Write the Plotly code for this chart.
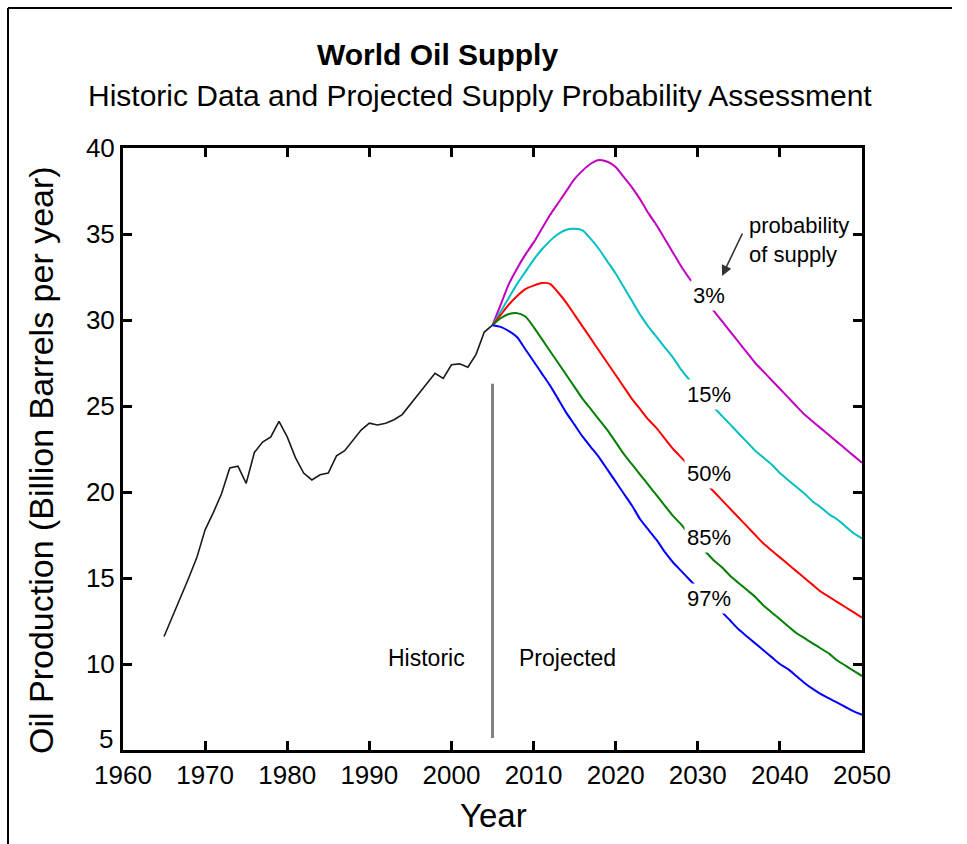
import plotly.graph_objects as go

# ---------------- data ----------------
hist_years = list(range(1965, 2006))
hist_values = [11.6, 12.7, 13.9, 15.0, 16.2, 17.8, 18.8, 19.9, 21.4, 21.5,
               20.5, 22.3, 22.9, 23.2, 24.1, 23.2, 22.0, 21.1, 20.7, 21.0,
               21.1, 22.1, 22.4, 23.0, 23.6, 24.0, 23.9, 24.0, 24.2, 24.5,
               25.1, 25.7, 26.3, 26.9, 26.6, 27.4, 27.45, 27.25, 28.0, 29.3,
               29.7]

proj_years = list(range(2005, 2051))
p03 = [29.7, 30.9, 32.1, 33.0, 33.8, 34.5, 35.3, 36.1, 36.8, 37.5,
       38.2, 38.7, 39.1, 39.3, 39.2, 38.9, 38.3, 37.7, 37.0, 36.2,
       35.5, 34.7, 33.9, 33.1, 32.4, 31.7, 31.1, 30.5, 29.9, 29.3,
       28.7, 28.1, 27.5, 27.0, 26.5, 26.0, 25.5, 25.0, 24.5, 24.1,
       23.7, 23.3, 22.9, 22.5, 22.1, 21.7]
p15 = [29.7, 30.5, 31.3, 32.1, 32.8, 33.5, 34.1, 34.6, 35.0, 35.25,
       35.3, 35.2, 34.7, 34.1, 33.4, 32.7, 31.9, 31.1, 30.3, 29.6,
       29.0, 28.4, 27.8, 27.1, 26.5, 25.9, 25.4, 24.9, 24.4, 23.9,
       23.4, 22.9, 22.4, 22.0, 21.6, 21.1, 20.7, 20.3, 19.9, 19.45,
       19.1, 18.7, 18.4, 18.0, 17.6, 17.3]
p50 = [29.7, 30.3, 30.9, 31.4, 31.8, 32.0, 32.15, 32.1, 31.6, 31.0,
       30.3, 29.6, 28.9, 28.2, 27.5, 26.8, 26.1, 25.4, 24.8, 24.2,
       23.7, 23.1, 22.5, 22.0, 21.5, 21.0, 20.5, 20.0, 19.5, 19.0,
       18.5, 18.0, 17.5, 17.0, 16.6, 16.2, 15.8, 15.4, 15.0, 14.6,
       14.2, 13.9, 13.6, 13.3, 13.0, 12.7]
p85 = [29.7, 30.1, 30.35, 30.4, 30.2, 29.6, 28.9, 28.2, 27.5, 26.8,
       26.1, 25.4, 24.8, 24.2, 23.6, 22.9, 22.2, 21.6, 21.0, 20.4,
       19.8, 19.2, 18.6, 18.1, 17.5, 17.0, 16.5, 16.0, 15.6, 15.1,
       14.7, 14.3, 13.9, 13.4, 13.0, 12.6, 12.2, 11.8, 11.5, 11.2,
       10.9, 10.6, 10.2, 9.9, 9.6, 9.3]
p97 = [29.7, 29.6, 29.35, 29.0, 28.3, 27.6, 26.9, 26.2, 25.4, 24.6,
       23.9, 23.2, 22.6, 22.0, 21.3, 20.6, 19.9, 19.2, 18.4, 17.8,
       17.2, 16.5, 15.9, 15.4, 14.9, 14.4, 13.9, 13.4, 13.0, 12.5,
       12.0, 11.6, 11.2, 10.8, 10.4, 10.0, 9.7, 9.3, 8.9, 8.55,
       8.25, 8.0, 7.75, 7.5, 7.25, 7.05]

series = [("3%", p03, "#c000c0", 31.4),
          ("15%", p15, "#00bfbf", 25.64),
          ("50%", p50, "#ff0000", 21.07),
          ("85%", p85, "#007f00", 17.38),
          ("97%", p97, "#0000ff", 13.78)]

x_ticks = list(range(1960, 2051, 10))
y_ticks = list(range(5, 41, 5))
y_ticktext = ["" if v == 5 else str(v) for v in y_ticks]  # "5" drawn slightly raised below

FONT = "Liberation Sans, Arial, Helvetica, sans-serif"

fig = go.Figure()
fig.add_trace(go.Scatter(x=hist_years, y=hist_values, mode="lines",
                         line=dict(color="#1a1a1a", width=1.6), showlegend=False))
for name, vals, col, _ in series:
    fig.add_trace(go.Scatter(x=proj_years, y=vals, mode="lines",
                             line=dict(color=col, width=2, shape="spline", smoothing=0.6),
                             showlegend=False))

# historic/projected divider
fig.add_shape(type="line", x0=2005, x1=2005, y0=5.7, y1=26.3, xref="x", yref="y",
              line=dict(color="#808080", width=3))

annotations = []
for name, vals, col, ly in series:
    annotations.append(dict(x=2031.4, y=ly, xref="x", yref="y", text=name,
                            showarrow=False, bgcolor="white", borderpad=2,
                            xanchor="center", yanchor="middle",
                            font=dict(family=FONT, size=22, color="black")))
annotations += [
    dict(x=1997.0, y=10.35, xref="x", yref="y", text="Historic", showarrow=False,
         xanchor="center", yanchor="middle",
         font=dict(family=FONT, size=23, color="black")),
    dict(x=2014.1, y=10.35, xref="x", yref="y", text="Projected", showarrow=False,
         xanchor="center", yanchor="middle",
         font=dict(family=FONT, size=23, color="black")),
    dict(x=2036.0, y=34.65, xref="x", yref="y", text="probability<br>of supply",
         showarrow=False, xanchor="left", yanchor="middle", align="left",
         font=dict(family=FONT, size=22, color="black")),
    dict(x=2032.96, y=32.56, xref="x", yref="y", text="", showarrow=True,
         ax=21, ay=-44, arrowhead=2, arrowsize=1.3, arrowwidth=1.6,
         arrowcolor="#333333"),
    dict(x=0.4256, y=1.1545, xref="paper", yref="paper", text="<b>World Oil Supply</b>",
         showarrow=False, xanchor="center", yanchor="middle",
         font=dict(family=FONT, size=30, color="black")),
    dict(x=0.4831, y=1.088, xref="paper", yref="paper",
         text="Historic Data and Projected Supply Probability Assessment",
         showarrow=False, xanchor="center", yanchor="middle",
         font=dict(family=FONT, size=30, color="black")),
    dict(x=-0.111, y=0.4817, xref="paper", yref="paper",
         text="Oil Production (Billion Barrels per year)", textangle=-90,
         showarrow=False, xanchor="center", yanchor="middle",
         font=dict(family=FONT, size=34, color="black")),
    dict(x=0.5007, y=-0.108, xref="paper", yref="paper", text="Year",
         showarrow=False, xanchor="center", yanchor="middle",
         font=dict(family=FONT, size=33, color="black")),
    dict(x=-0.0115, y=0.0, xref="paper", yref="paper", text="5",
         showarrow=False, xanchor="right", yanchor="bottom", yshift=-6,
         font=dict(family=FONT, size=26, color="black")),
]

# outer frame (left and top)
fig.add_shape(type="line", xref="paper", yref="paper", x0=-0.1556, x1=-0.1556,
              y0=1.2326, y1=-0.16, line=dict(color="black", width=2))
fig.add_shape(type="line", xref="paper", yref="paper", x0=-0.1556, x1=1.1218,
              y0=1.2326, y1=1.2326, line=dict(color="black", width=2))

axis_common = dict(showline=True, linewidth=3, linecolor="black", mirror="ticks",
                   ticks="inside", ticklen=9, tickwidth=3, tickcolor="black",
                   showgrid=False, zeroline=False,
                   tickfont=dict(family=FONT, size=26, color="black"))

fig.update_layout(
    width=967, height=844,
    margin=dict(l=123, r=105, t=148, b=94),
    paper_bgcolor="white", plot_bgcolor="white",
    xaxis=dict(range=[1960, 2050], tickvals=x_ticks, **axis_common),
    yaxis=dict(range=[5, 40], tickvals=y_ticks, ticktext=y_ticktext, **axis_common),
    annotations=annotations,
    showlegend=False,
)

fig.write_html("out.html")
